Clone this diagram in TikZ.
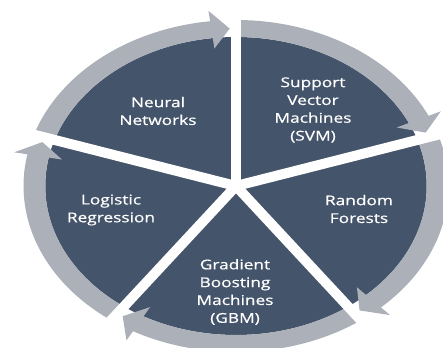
\documentclass[tikz,border=0pt]{standalone}
\usepackage{fontspec}
\setmainfont[FakeStretch=1.28,FakeBold=0.6]{Open Sans}
\definecolor{slate}{RGB}{68,84,106}
\definecolor{ringgray}{RGB}{172,176,184}
\tikzset{segtext/.style={text=white,align=center,font=\fontsize{13.5}{17.8}\selectfont}}
\begin{document}
\begin{tikzpicture}[x=1pt,y=1pt]
		\useasboundingbox (0,0) rectangle (443,347);
		\begin{scope}[shift={(236,161)},xscale=1.28]
		\coordinate (c) at (0,0);
		\fill[slate] (c) circle (149);
		\foreach \a in {90,18,-54,-126,162}
		\fill[ringgray] (\a+72:149) arc (\a+72:\a+7:149) -- (\a+7:138.5) -- (\a+1.8:157.5) -- (\a+7:176.5) -- (\a+7:166) arc (\a+7:\a+72:166) -- cycle;
		\foreach \a in {90,18,-54,-126,162}
		\draw[white,line width=10] (c) -- (\a:195);
		\end{scope}
		\node[segtext] (nn) at (158,236) {Neural\\Networks};
		\node[segtext] (svm) at (313,237) {Support\\Vector\\Machines\\(SVM)};
		\node[segtext] (rf) at (359,138) {Random\\Forests};
		\node[segtext] (gbm) at (235,55) {Gradient\\Boosting\\Machines\\(GBM)};
		\node[segtext] (lr) at (111,137) {Logistic\\Regression};
		\end{tikzpicture}
\end{document}
